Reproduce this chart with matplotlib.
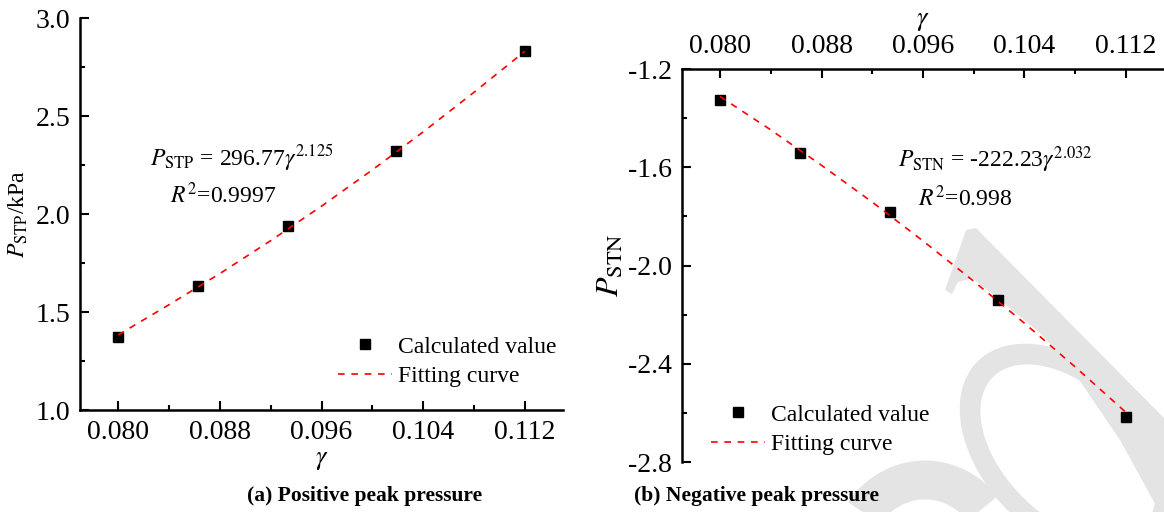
import numpy as np
import matplotlib
matplotlib.use("Agg")
import matplotlib.pyplot as plt
from matplotlib.patches import Polygon
from matplotlib.ticker import MultipleLocator, FormatStrFormatter

plt.rcParams['font.family'] = ['Liberation Serif', 'DejaVu Serif']
plt.rcParams['mathtext.fontset'] = 'stix'
plt.rcParams['axes.unicode_minus'] = False

# calculated values
gamma = [0.0800, 0.0863, 0.0934, 0.1019, 0.1120]
p_stp = [1.375, 1.635, 1.940, 2.322, 2.832]
p_stn = [-1.326, -1.543, -1.783, -2.142, -2.615]

# fitted curves P = a * gamma^b, sampled along gamma
fit_gamma = [0.080, 0.084, 0.088, 0.092, 0.096, 0.100, 0.104, 0.108, 0.112]
fit_stp = [1.383, 1.537, 1.696, 1.864, 2.040, 2.225, 2.419, 2.621, 2.830]
fit_stn = [-1.312, -1.448, -1.592, -1.742, -1.900, -2.064, -2.235, -2.413, -2.598]

x_ticks = [0.080, 0.088, 0.096, 0.104, 0.112]

W, H = 1164, 512


def px(x, y):
    return x / W, 1 - y / H


fig = plt.figure(figsize=(W / 100, H / 100), dpi=100)

# light grey background lettering
wm = fig.add_axes([0, 0, 1, 1], zorder=0)
wm.set_xlim(0, W)
wm.set_ylim(H, 0)
wm.axis('off')
grey = '#e4e4e4'


def ellipse(cx, cy, a, b, ang, n=200):
    t = np.linspace(0, 2 * np.pi, n)
    u = np.array([np.cos(ang), np.sin(ang)])
    v = np.array([-np.sin(ang), np.cos(ang)])
    return np.column_stack([cx + a * np.cos(t) * u[0] + b * np.sin(t) * v[0],
                            cy + a * np.cos(t) * u[1] + b * np.sin(t) * v[1]])


ang = np.deg2rad(45)
wm.add_patch(Polygon(ellipse(1068, 452, 128, 84, ang), color=grey, lw=0))
wm.add_patch(Polygon(ellipse(1068, 452, 106, 64, ang), color='white', lw=0))
wm.add_patch(Polygon([(966, 230), (976, 228), (1164, 418), (1164, 520),
                      (1120, 440), (1067, 362), (1040, 333), (1000, 300),
                      (972, 278), (958, 282), (952, 294), (945, 290)],
                     color=grey, lw=0))
t = np.linspace(np.deg2rad(200), np.deg2rad(320), 60)
wm.plot(925 + 75 * np.cos(t), 560 + 80 * np.sin(t), color=grey, lw=28,
        solid_capstyle='butt')

tick_fs = 20
label_fs = 17


def style(ax):
    ax.set_facecolor('none')
    for s in ax.spines.values():
        s.set_linewidth(1.8)
    ax.tick_params(which='both', direction='in', width=1.5, labelsize=tick_fs)
    ax.tick_params(which='major', length=6.5, pad=7)
    ax.tick_params(which='minor', length=3.5)
    ax.set_xlim(0.077, 0.115)
    ax.set_xticks(x_ticks)
    ax.xaxis.set_minor_locator(MultipleLocator(0.004))
    ax.xaxis.set_major_formatter(FormatStrFormatter('%.3f'))


# (a) positive peak pressure
ax1 = fig.add_axes([80 / W, 1 - 410 / H, 483 / W, 392 / H], zorder=1)
style(ax1)
ax1.spines['top'].set_visible(False)
ax1.spines['right'].set_visible(False)
ax1.set_ylim(1.0, 3.0)
ax1.yaxis.set_major_locator(MultipleLocator(0.5))
ax1.yaxis.set_minor_locator(MultipleLocator(0.25))
ax1.yaxis.set_major_formatter(FormatStrFormatter('%.1f'))
ax1.plot(gamma, p_stp, 's', color='black', ms=7, label='Calculated value')
ax1.plot(fit_gamma, fit_stp, '--', color='red', lw=1.2, dashes=(4, 4),
         label='Fitting curve')
ax1.set_xlabel(r'$\gamma$', fontsize=19, labelpad=4)
ax1.set_ylabel(r'$P_{\mathrm{STP}}$/kPa', fontsize=17, labelpad=4)
ax1.legend(loc='upper left', bbox_to_anchor=px(338, 336), bbox_transform=fig.transFigure,
           frameon=False, fontsize=label_fs, borderpad=0, borderaxespad=0,
           handlelength=2.3, handletextpad=0.25, labelspacing=0.35)
fig.text(*px(150, 165), r'$P_{\mathrm{STP}}$ = 296.77$\gamma^{2.125}$',
         fontsize=label_fs, ha='left', va='baseline')
fig.text(*px(170, 203), r'$R^2$=0.9997', fontsize=label_fs, ha='left', va='baseline')
fig.text(*px(365, 501), '(a) Positive peak pressure', fontsize=15.5,
         fontweight='bold', ha='center', va='baseline')

# (b) negative peak pressure
ax2 = fig.add_axes([682 / W, 1 - 462 / H, 482 / W, 393 / H], zorder=1)
style(ax2)
ax2.spines['bottom'].set_visible(False)
ax2.spines['right'].set_visible(False)
ax2.xaxis.tick_top()
ax2.xaxis.set_label_position('top')
ax2.set_ylim(-2.8, -1.2)
ax2.yaxis.set_major_locator(MultipleLocator(0.4))
ax2.yaxis.set_minor_locator(MultipleLocator(0.2))
ax2.yaxis.set_major_formatter(FormatStrFormatter('%.1f'))
ax2.plot(gamma, p_stn, 's', color='black', ms=7, label='Calculated value')
ax2.plot(fit_gamma, fit_stn, '--', color='red', lw=1.2, dashes=(4, 4),
         label='Fitting curve')
ax2.set_xlabel(r'$\gamma$', fontsize=19, labelpad=7)
ax2.set_ylabel(r'$P_{\mathrm{STN}}$', fontsize=23, labelpad=2)
ax2.legend(loc='upper left', bbox_to_anchor=px(711, 404), bbox_transform=fig.transFigure,
           frameon=False, fontsize=label_fs, borderpad=0, borderaxespad=0,
           handlelength=2.3, handletextpad=0.25, labelspacing=0.35)
fig.text(*px(898, 167), r'$P_{\mathrm{STN}}$ = -222.23$\gamma^{2.032}$',
         fontsize=label_fs, ha='left', va='baseline')
fig.text(*px(918, 206), r'$R^2$=0.998', fontsize=label_fs, ha='left', va='baseline')
fig.text(*px(757, 501), '(b) Negative peak pressure', fontsize=15.5,
         fontweight='bold', ha='center', va='baseline')

fig.savefig('out.png', dpi=100)
